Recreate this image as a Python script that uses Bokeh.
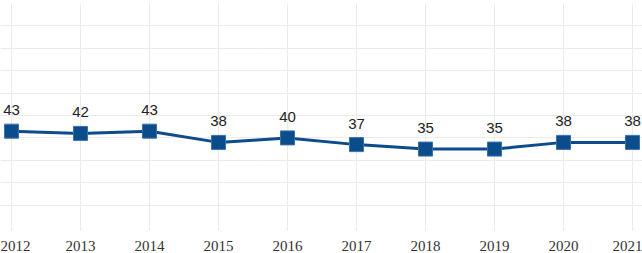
from bokeh.plotting import figure
from bokeh.models import ColumnDataSource, FixedTicker, Range1d
from bokeh.core.properties import value
from bokeh.embed import file_html
from bokeh.resources import INLINE

years = [2012, 2013, 2014, 2015, 2016, 2017, 2018, 2019, 2020, 2021]
values = [43, 42, 43, 38, 40, 37, 35, 35, 38, 38]
labels = [str(v) for v in values]

src = ColumnDataSource(dict(x=years, y=values, t=labels))

p = figure(frame_width=642, frame_height=224, output_backend="svg", toolbar_location=None,
           x_range=Range1d(2011.84, 2021.145), y_range=Range1d(0, 100),
           min_border_left=0, min_border_right=0, min_border_top=3, min_border_bottom=26)
p.outline_line_color = None
p.background_fill_color = "white"
p.border_fill_color = "white"

p.yaxis.visible = False
p.yaxis.ticker = FixedTicker(ticks=list(range(0, 101, 10)))
p.xaxis.ticker = FixedTicker(ticks=years)
p.xaxis.axis_line_color = None
p.xaxis.major_tick_line_color = "#e6e6e6"
p.xaxis.major_tick_out = 3
p.xaxis.major_tick_in = 0
p.xaxis.minor_tick_line_color = None
p.xaxis.major_label_standoff = 10
p.xaxis.major_label_text_font = "Liberation Serif"
p.xaxis.major_label_text_font_size = "15px"
p.xaxis.major_label_text_color = "#333333"

p.xgrid.grid_line_color = "#ebebeb"
p.ygrid.grid_line_color = "#ebebeb"

p.line("x", "y", source=src, line_color="#0b4c8c", line_width=3)
p.scatter("x", "y", source=src, marker="square", size=14, fill_color="#0b4c8c",
          line_color="#3a70a8", line_width=1)
p.text("x", "y", text="t", source=src, text_align="center", text_baseline="bottom",
       y_offset=-16, text_font=value("Liberation Sans"), text_font_size="15px",
       text_color="#222222")

open("out.html", "w").write(file_html(p, INLINE))
